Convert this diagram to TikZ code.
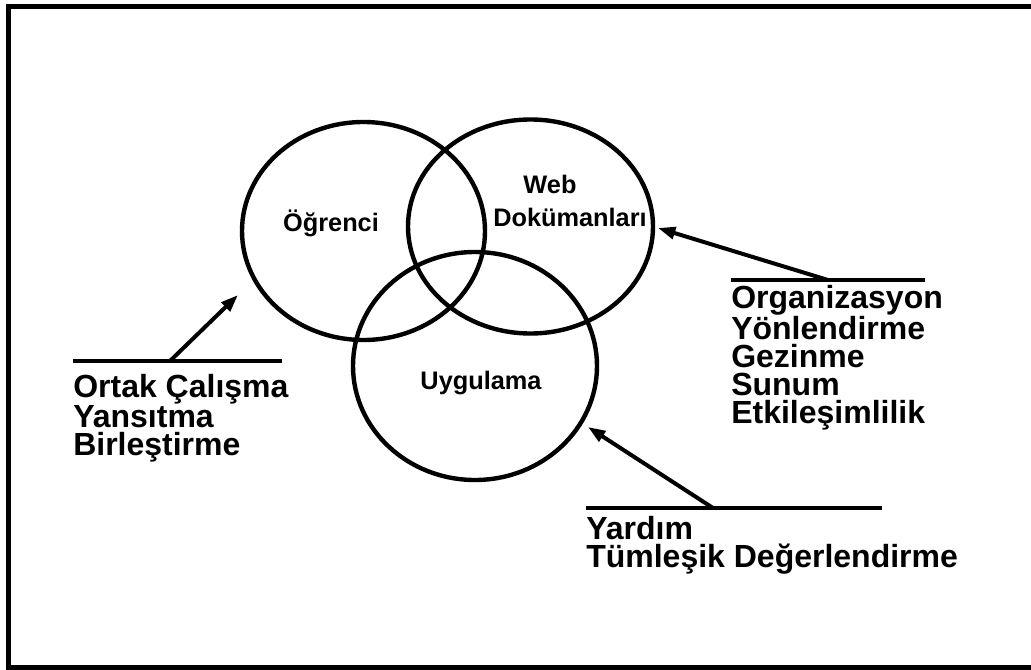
\documentclass[tikz,border=0pt]{standalone}
\usepackage{fontspec}
\setmainfont{Liberation Sans}
\usetikzlibrary{arrows.meta}

\begin{document}
\begin{tikzpicture}[x=0.75pt, y=-0.75pt,
		ring/.style={line width=3.3pt},
		rule/.style={line width=3pt},
		pointer/.style={line width=3pt, -{Triangle[length=13pt,width=9pt]}},
		ringlabel/.style={inner sep=0, anchor=base, font=\bfseries\fontsize{19pt}{21pt}\selectfont},
		list/.style={inner sep=0, anchor=base west, align=left, font=\bfseries\fontsize{24pt}{20.8pt}\selectfont}]
			%%%%% START %%%%%
			\useasboundingbox (0, 0) rectangle (1031, 670);
			
			% frame (right side is cut off)
			\draw[line width=3.8pt] (1035, 6.5) -- (8.5, 6.5) -- (8.5, 667.5) -- (1035, 667.5);
			
			% the three rings
			\draw[ring] (363.5, 231) ellipse [x radius=121.5, y radius=109];
			\draw[ring] (530.5, 226.5) ellipse [x radius=122.5, y radius=107];
			\draw[ring] (475, 366) ellipse [x radius=122, y radius=114];
			
			\node[ringlabel] (ogrenci) at (331, 231.5) {Öğrenci};
			\node[ringlabel] (web) at (550, 194) {Web};
			\node[ringlabel] (dokuman) at (570, 227) {Dokümanları};
			\node[ringlabel] (uygulama) at (481, 389) {Uygulama};
			
			% left list (base = last line)
			\coordinate (solA) at (73, 361);
			\coordinate (solB) at (282, 361);
			\coordinate (solK) at (170, 361);
			\coordinate (solU) at (238, 295);
			\draw[rule] (solA) -- (solB);
			\draw[pointer] (solK) -- (solU);
			\node[list] (solliste) at (73, 455.5) {Ortak Çalışma\\Yansıtma\\Birleştirme};
			
			% right list
			\coordinate (sagA) at (731, 280);
			\coordinate (sagB) at (925, 280);
			\coordinate (sagK) at (828, 280);
			\coordinate (sagU) at (658, 228);
			\draw[rule] (sagA) -- (sagB);
			\draw[pointer] (sagK) -- (sagU);
			\node[list] (sagliste) at (731, 423) {Organizasyon\\Yönlendirme\\Gezinme\\Sunum\\Etkileşimlilik};
			
			% lower list
			\coordinate (altA) at (586, 508);
			\coordinate (altB) at (882, 508);
			\coordinate (altK) at (713, 508);
			\coordinate (altU) at (588, 427);
			\draw[rule] (altA) -- (altB);
			\draw[pointer] (altK) -- (altU);
			\node[list] (altliste) at (586, 567) {Yardım\\Tümleşik Değerlendirme};
			
			%%%%% END %%%%%
\end{tikzpicture}
\end{document}
